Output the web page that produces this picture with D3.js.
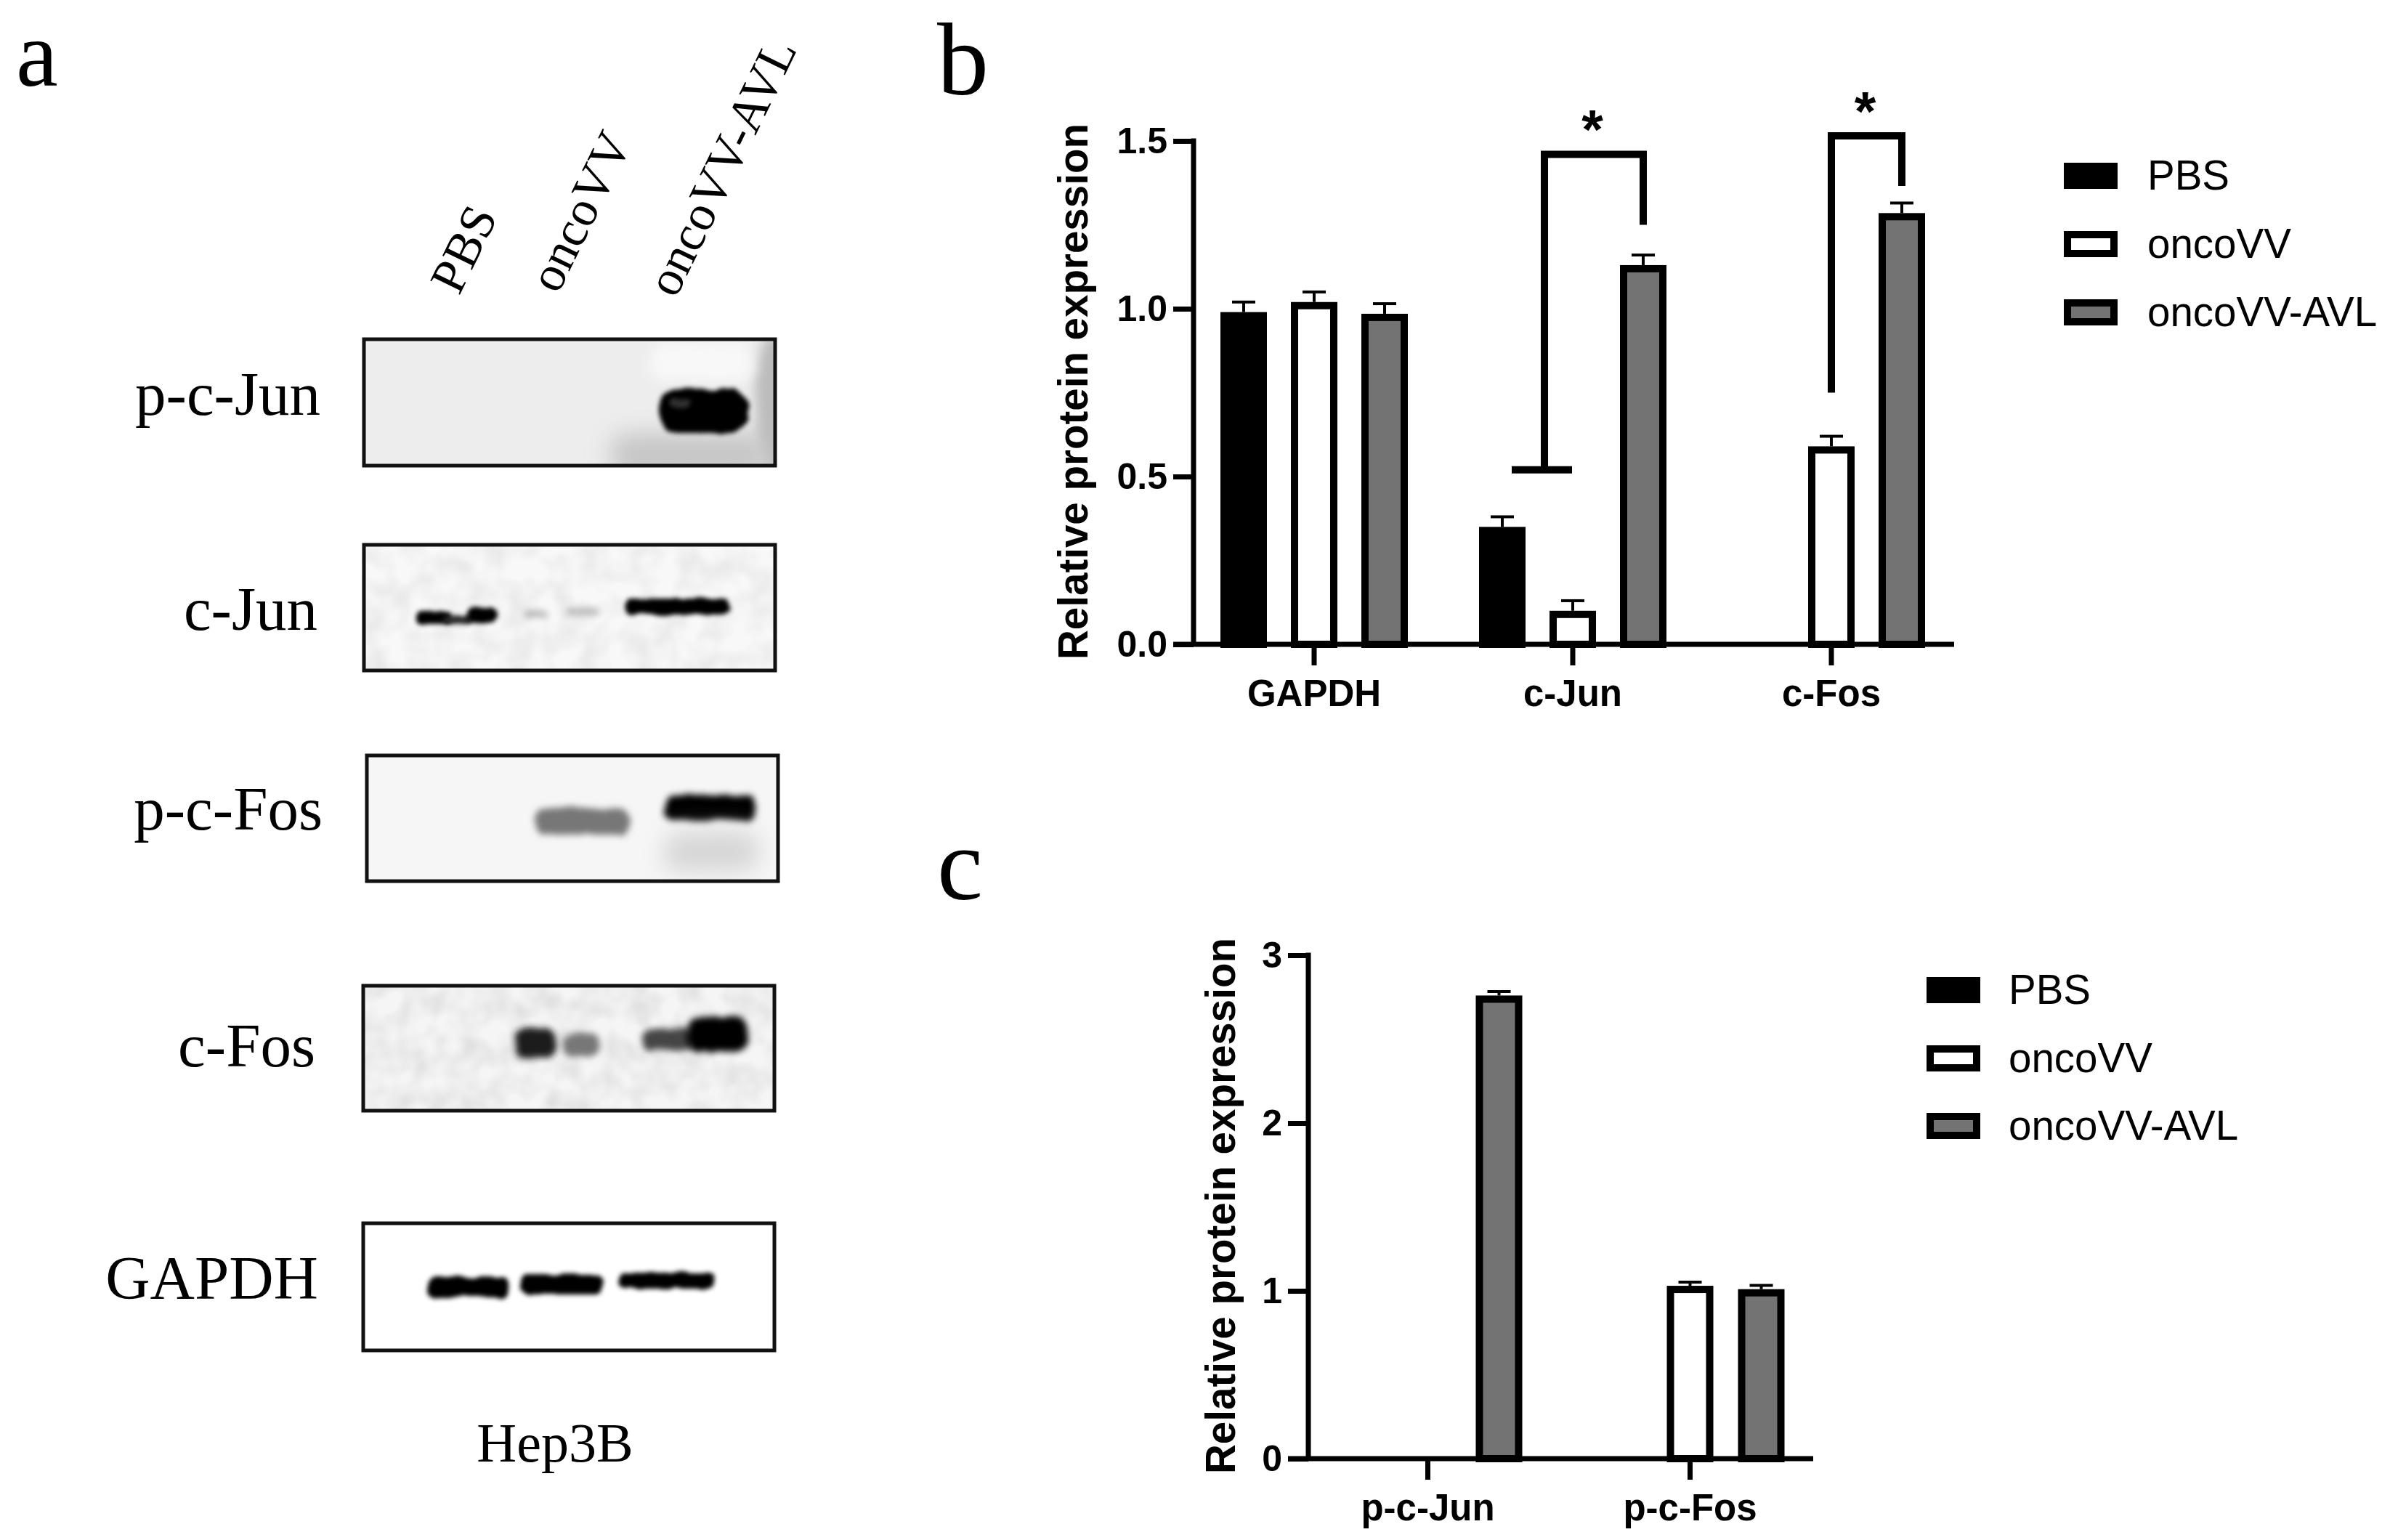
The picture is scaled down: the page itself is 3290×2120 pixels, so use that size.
<!DOCTYPE html>
<html lang="en">
<head>
  <meta charset="UTF-8">
  <title>Hep3B western blot and protein expression</title>
  <style>
    html, body { margin: 0; padding: 0; background: #fff; }
    svg { display: block; }
    .serif { font-family: "Liberation Serif", serif; fill: #000; }
    .sans { font-family: "Liberation Sans", Arial, sans-serif; fill: #000; }
    .axis path, .axis line { stroke: #000; stroke-width: 7px; }
    .axis text { font-family: "Liberation Sans", Arial, sans-serif; font-weight: bold; fill: #000; stroke: none; }
  </style>
  <script src="https://cdn.jsdelivr.net/npm/d3@7"></script>
</head>
<body>
<div class="main"></div>
<script>

// groups
var series = ["PBS", "oncoVV", "oncoVV-AVL"];

// panel b
var catsB = ["GAPDH", "c-Jun", "c-Fos"];
var pbsB = [0.99, 0.35, null];
var oncoB = [1.02, 0.10, 0.59];
var avlB = [0.985, 1.13, 1.285];
var errPbsB = [0.03, 0.03, null];
var errOncoB = [0.03, 0.03, 0.03];
var errAvlB = [0.03, 0.03, 0.03];
var ticksB = [0, 0.5, 1.0, 1.5];

// panel c
var catsC = ["p-c-Jun", "p-c-Fos"];
var pbsC = [null, null];
var oncoC = [null, 1.03];
var avlC = [2.76, 1.01];
var errOncoC = [null, 0.022];
var errAvlC = [0.024, 0.022];
var ticksC = [0, 1, 2, 3];

// panel a
var blotNames = ["p-c-Jun", "c-Jun", "p-c-Fos", "c-Fos", "GAPDH"];

var width = 3290, height = 2120;
var fills = { "PBS": "#000", "oncoVV": "#fff", "oncoVV-AVL": "#737373" };

var svg = d3.select(".main").append("svg")
    .attr("width", width)
    .attr("height", height)
    .style("background", "#fff");

var defs = svg.append("defs");

// blur with a bit of wobble so the bands do not look like clean pills
[3, 5, 8, 16].forEach(function(s) {
    var f = defs.append("filter").attr("id", "blur" + s)
        .attr("x", "-60%").attr("y", "-150%").attr("width", "220%").attr("height", "400%");
    f.append("feTurbulence").attr("type", "fractalNoise").attr("baseFrequency", 0.04)
        .attr("numOctaves", 2).attr("seed", 4).attr("result", "n");
    f.append("feDisplacementMap").attr("in", "SourceGraphic").attr("in2", "n")
        .attr("scale", 9).attr("xChannelSelector", "R").attr("yChannelSelector", "G").attr("result", "d");
    f.append("feGaussianBlur").attr("in", "d").attr("stdDeviation", s);
});

// faint mottling of the film background
var mott = defs.append("filter").attr("id", "mottle")
    .attr("x", 0).attr("y", 0).attr("width", "100%").attr("height", "100%");
mott.append("feTurbulence").attr("type", "fractalNoise").attr("baseFrequency", 0.03)
    .attr("numOctaves", 2).attr("seed", 9);
mott.append("feColorMatrix").attr("type", "matrix")
    .attr("values", "0 0 0 0 0  0 0 0 0 0  0 0 0 0 0  0.4 0 0 0 -0.13");

// panel letters
[["a", 22, 118, 130], ["b", 1290, 130, 142], ["c", 1290, 1238, 142]].forEach(function(d) {
    svg.append("text").attr("class", "serif")
        .attr("x", d[1]).attr("y", d[2])
        .style("font-size", d[3] + "px")
        .text(d[0]);
});

// ---- panel a: the blots ----
var boxes = {
    "p-c-Jun": { x: 501, y: 467, w: 566, h: 174, bg: "#ededed", mott: 0, tx: 441, ty: 571 },
    "c-Jun":   { x: 501, y: 750, w: 566, h: 173, bg: "#f8f8f8", mott: 0.3, tx: 437, ty: 867 },
    "p-c-Fos": { x: 505, y: 1040, w: 566, h: 173, bg: "#f6f6f6", mott: 0, tx: 444, ty: 1142 },
    "c-Fos":   { x: 500, y: 1357, w: 566, h: 172, bg: "#f5f5f5", mott: 0.4, tx: 434, ty: 1468 },
    "GAPDH":   { x: 500, y: 1684, w: 566, h: 175, bg: "#fff", mott: 0, tx: 438, ty: 1788 }
};

// x, y, w, h, grey, blur
var bands = {
    "p-c-Jun": [
        [1040, 460, 50, 190, "#bcbcbc", 8],
        [840, 596, 220, 60, "#c6c6c6", 16],
        [895, 470, 140, 55, "#f8f8f8", 8],
        [908, 536, 122, 60, "#000", 3],
        [922, 548, 28, 12, "#333", 3]
    ],
    "c-Jun": [
        [572, 842, 50, 17, "#000", 3],
        [610, 848, 40, 9, "#2a2a2a", 3],
        [642, 838, 42, 18, "#000", 3],
        [722, 840, 32, 11, "#b8b8b8", 5],
        [780, 836, 46, 12, "#bcbcbc", 5],
        [862, 824, 143, 22, "#000", 3]
    ],
    "p-c-Fos": [
        [738, 1113, 130, 36, "#777", 5],
        [915, 1094, 124, 36, "#000", 5],
        [915, 1145, 130, 55, "#d6d6d6", 16]
    ],
    "c-Fos": [
        [708, 1416, 58, 40, "#1a1a1a", 5],
        [775, 1422, 50, 32, "#777", 5],
        [885, 1416, 70, 30, "#444", 5],
        [945, 1400, 85, 48, "#000", 5]
    ],
    "GAPDH": [
        [590, 1758, 110, 28, "#000", 3],
        [717, 1754, 113, 28, "#000", 3],
        [851, 1752, 134, 22, "#000", 3]
    ]
};

blotNames.forEach(function(name, i) {
    var b = boxes[name];
    defs.append("clipPath").attr("id", "clip" + i)
        .append("rect").attr("x", b.x).attr("y", b.y).attr("width", b.w).attr("height", b.h);
    var g = svg.append("g").attr("clip-path", "url(#clip" + i + ")");
    g.append("rect").attr("x", b.x).attr("y", b.y).attr("width", b.w).attr("height", b.h).attr("fill", b.bg);
    if (b.mott) {
        g.append("rect").attr("x", b.x).attr("y", b.y).attr("width", b.w).attr("height", b.h)
            .attr("filter", "url(#mottle)").attr("opacity", b.mott);
    }
    g.selectAll("rect.band").data(bands[name]).enter().append("rect")
        .attr("class", "band")
        .attr("x", function(d) { return d[0]; })
        .attr("y", function(d) { return d[1]; })
        .attr("width", function(d) { return d[2]; })
        .attr("height", function(d) { return d[3]; })
        .attr("rx", function(d) { return d[3] / 2.5; })
        .attr("fill", function(d) { return d[4]; })
        .attr("filter", function(d) { return "url(#blur" + d[5] + ")"; });
    svg.append("rect").attr("x", b.x).attr("y", b.y).attr("width", b.w).attr("height", b.h)
        .attr("fill", "none").attr("stroke", "#111").attr("stroke-width", 5);
    svg.append("text").attr("class", "serif")
        .attr("x", b.tx).attr("y", b.ty)
        .attr("text-anchor", "end")
        .style("font-size", "85px")
        .text(name);
});

// lane labels, leaning up to the right
var laneX = [632, 768, 930];
var laneY = [408, 406, 412];
series.forEach(function(s, i) {
    svg.append("text").attr("class", "serif")
        .attr("transform", "translate(" + laneX[i] + "," + laneY[i] + ") rotate(-64)")
        .style("font-size", "69px")
        .text(s);
});

svg.append("text").attr("class", "serif")
    .attr("x", 764).attr("y", 2012)
    .attr("text-anchor", "middle")
    .style("font-size", "76px")
    .text("Hep3B");

// ---- bar panels ----
function drawBars(o) {
    var y = d3.scaleLinear().domain(o.yDomain).range(o.yRange);
    var x = d3.scaleBand().domain(o.cats).range(o.xRange);
    var sub = d3.scalePoint().domain(series).range([-o.subStep, o.subStep]);

    o.rows.forEach(function(row) {
        var data = o.cats.map(function(c, i) {
            return { cat: c, v: row.values[i], e: row.errs ? row.errs[i] : null };
        }).filter(function(d) { return d.v !== null; });
        var cx = function(d) { return x(d.cat) + x.bandwidth() / 2 + sub(row.name); };
        var g = svg.append("g");

        g.selectAll("line.stem").data(data).enter().append("line")
            .attr("x1", cx).attr("x2", cx)
            .attr("y1", function(d) { return y(d.v); })
            .attr("y2", function(d) { return y(d.v + d.e); })
            .attr("stroke", "#000").attr("stroke-width", 4);
        g.selectAll("line.cap").data(data).enter().append("line")
            .attr("x1", function(d) { return cx(d) - 16; })
            .attr("x2", function(d) { return cx(d) + 16; })
            .attr("y1", function(d) { return y(d.v + d.e); })
            .attr("y2", function(d) { return y(d.v + d.e); })
            .attr("stroke", "#000").attr("stroke-width", 4);
        g.selectAll("rect").data(data).enter().append("rect")
            .attr("x", function(d) { return cx(d) - 27; })
            .attr("width", 54)
            .attr("y", function(d) { return y(d.v) + 5; })
            .attr("height", function(d) { return y(0) - y(d.v) - 5; })
            .attr("fill", fills[row.name])
            .attr("stroke", "#000")
            .attr("stroke-width", 10);
    });

    var yAxis = d3.axisLeft(y).tickValues(o.ticks).tickFormat(o.fmt).tickSize(28).tickPadding(8);
    var ya = svg.append("g").attr("class", "axis")
        .attr("transform", "translate(" + o.axisX + ",0)")
        .call(yAxis);
    ya.select(".domain").attr("d", "M0," + (y(o.yDomain[1]) - 3.5) + "V" + y(0));
    ya.selectAll("text").style("font-size", "50px");

    var xAxis = d3.axisBottom(x).tickSize(29).tickPadding(20).tickSizeOuter(0);
    var xa = svg.append("g").attr("class", "axis")
        .attr("transform", "translate(0," + y(0) + ")")
        .call(xAxis);
    xa.select(".domain").attr("d", "M" + (o.axisX - 28) + ",0H" + o.axisEnd);
    xa.selectAll("text").style("font-size", "51px");

    svg.append("text").attr("class", "sans")
        .attr("transform", "translate(" + o.titleX + "," + o.titleY + ") rotate(-90)")
        .attr("text-anchor", "middle")
        .style("font-size", "56.5px")
        .style("font-weight", "bold")
        .text("Relative protein expression");

    var legend = svg.append("g");
    series.forEach(function(s, i) {
        legend.append("rect")
            .attr("x", o.legendX + 5)
            .attr("y", o.legendY[i] + 5)
            .attr("width", 64)
            .attr("height", 26)
            .attr("fill", fills[s])
            .attr("stroke", "#000")
            .attr("stroke-width", 10);
        legend.append("text").attr("class", "sans")
            .attr("x", o.legendTextX)
            .attr("y", o.legendY[i] + 37)
            .style("font-size", "56.5px")
            .text(s);
    });

    return { x: x, y: y, sub: sub };
}

var b = drawBars({
    cats: catsB,
    rows: [
        { name: "PBS", values: pbsB, errs: errPbsB },
        { name: "oncoVV", values: oncoB, errs: errOncoB },
        { name: "oncoVV-AVL", values: avlB, errs: errAvlB }
    ],
    ticks: ticksB,
    fmt: d3.format(".1f"),
    yDomain: [0, 1.5],
    yRange: [887, 194],
    xRange: [1631, 2699],
    subStep: 97,
    axisX: 1643,
    axisEnd: 2690,
    titleX: 1497,
    titleY: 539,
    legendX: 2841,
    legendY: [224, 318, 412],
    legendTextX: 2956
});

drawBars({
    cats: catsC,
    rows: [
        { name: "PBS", values: pbsC, errs: null },
        { name: "oncoVV", values: oncoC, errs: errOncoC },
        { name: "oncoVV-AVL", values: avlC, errs: errAvlC }
    ],
    ticks: ticksC,
    fmt: d3.format("d"),
    yDomain: [0, 3],
    yRange: [2008, 1315],
    xRange: [1785, 2507],
    subStep: 98,
    axisX: 1801,
    axisEnd: 2496,
    titleX: 1700,
    titleY: 1660,
    legendX: 2652,
    legendY: [1345, 1439, 1532],
    legendTextX: 2765
});

// significance brackets in panel b: [group, series left, series right, low left, top, low right]
var brackets = [
    ["c-Jun", "PBS", "oncoVV-AVL", 0.52, 1.46, 1.25, -36],
    ["c-Fos", "oncoVV", "oncoVV-AVL", 0.75, 1.515, 1.366, 0]
];
brackets.forEach(function(d) {
    var mid = b.x(d[0]) + b.x.bandwidth() / 2;
    var lx = mid + b.sub(d[1]) + (d[6] ? 58 : 0);
    var rx = mid + b.sub(d[2]);
    svg.append("path")
        .attr("d", d3.line()([[lx, b.y(d[3])], [lx, b.y(d[4])], [rx, b.y(d[4])], [rx, b.y(d[5])]]))
        .attr("fill", "none").attr("stroke", "#000").attr("stroke-width", 10);
    if (d[6]) {
        svg.append("line")
            .attr("x1", lx - 45).attr("x2", lx + 38)
            .attr("y1", b.y(d[3])).attr("y2", b.y(d[3]))
            .attr("stroke", "#000").attr("stroke-width", 10);
    }
    svg.append("text").attr("class", "sans")
        .attr("x", (lx + rx) / 2 - 2)
        .attr("y", b.y(d[4]) - 8)
        .attr("text-anchor", "middle")
        .style("font-size", "76px")
        .style("font-weight", "bold")
        .text("*");
});

</script>
</body>
</html>
